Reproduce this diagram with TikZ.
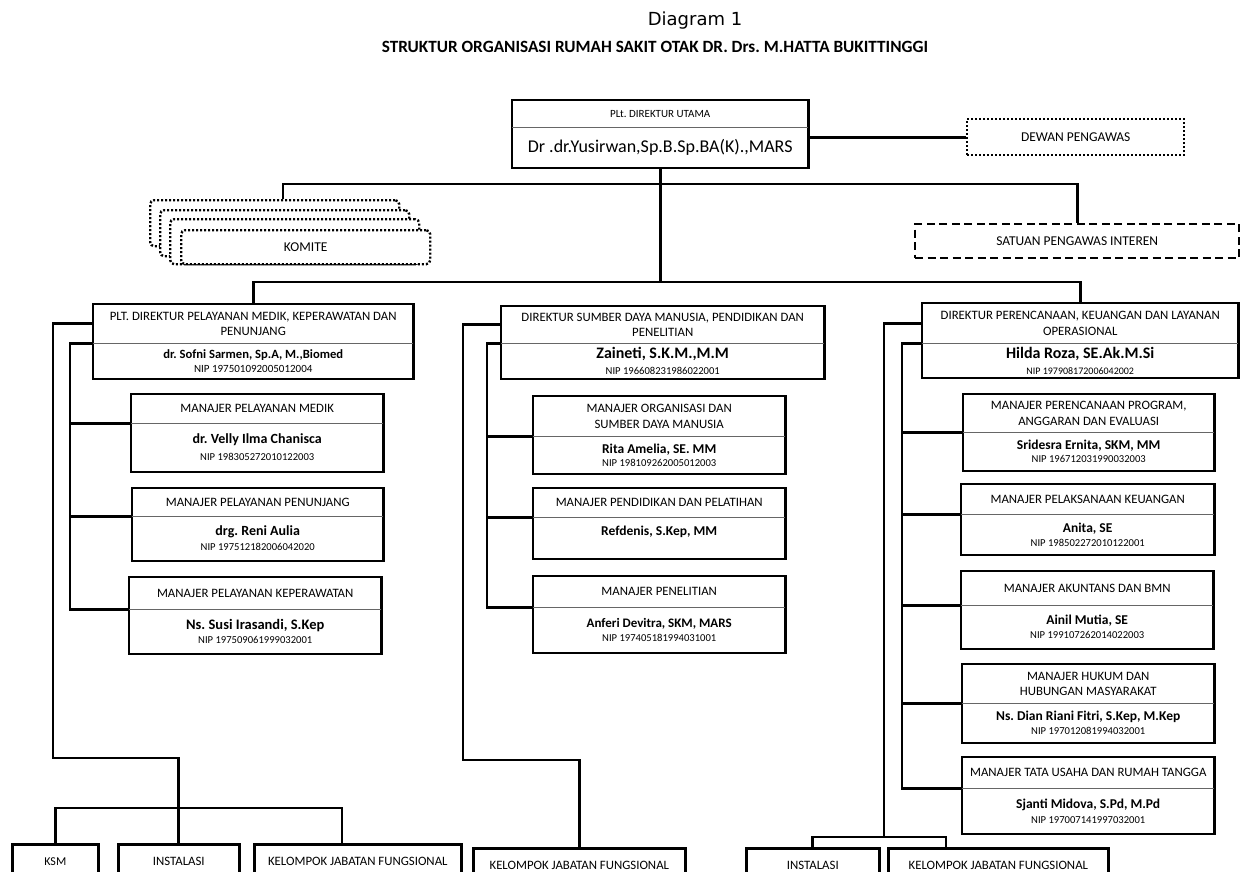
\documentclass[tikz,border=0pt]{standalone}
\usepackage{fontspec}
\setmainfont{Carlito}
\newfontfamily\verdana{DejaVu Sans}
\usetikzlibrary{positioning}
\frenchspacing
\newcommand{\tebal}[2][13.5]{{\fontsize{#1}{#1}\selectfont\bfseries #2}}

\begin{document}
\begin{tikzpicture}[x=1pt,y=-1pt,
        conn/.style={line width=2.8pt},
        frame/.style={line width=2.6pt},
        divline/.style={line width=0.9pt,black!60},
        hd/.style={inner sep=0pt,anchor=north west,align=center,font=\fontsize{12.8}{15.5}\selectfont},
        bd/.style={inner sep=0pt,align=center,font=\fontsize{10.6}{14}\selectfont},
        low/.style={draw,line width=2.6pt,inner sep=0pt,anchor=north west,minimum height=34,font=\fontsize{12.8}{15}\selectfont},
        titik/.style={draw,line width=2.4pt,dash pattern=on 2pt off 2pt,font=\fontsize{13.5}{15}\selectfont}]

    \useasboundingbox (0,0) rectangle (1242,872);
    \clip (0,0) rectangle (1242,872);

    \node[font=\verdana\fontsize{18}{20}\selectfont] (cap) at (695,21) {Diagram 1};
    \node[font=\bfseries\fontsize{17.2}{19}\selectfont] (judul) at (655,47) {STRUKTUR ORGANISASI RUMAH SAKIT OTAK DR. Drs. M.HATTA BUKITTINGGI};

    % pimpinan
    \node[hd,minimum width=296,minimum height=27,font=\fontsize{11}{14}\selectfont] (dir-t) at (512,100) {PLt. DIREKTUR UTAMA};
    \node[bd,minimum width=296,minimum height=40,below=0pt of dir-t,font=\fontsize{18}{20}\selectfont] (dir-b) {Dr .dr.Yusirwan,Sp.B.Sp.BA(K).,MARS};
    \node[titik,minimum width=217,minimum height=36,anchor=north west] (dewan) at (966,118) {DEWAN PENGAWAS};
    \node[draw,line width=2.4pt,dash pattern=on 8pt off 4.5pt,minimum width=324,minimum height=34,anchor=north west,font=\fontsize{13.5}{15}\selectfont] (spi) at (914,223) {SATUAN PENGAWAS INTEREN};
    \foreach \i/\x/\y/\h in {1/149/199/46,2/159/209/46,3/169/218/45}
    {
        \node[titik,fill=white,rounded corners=4pt,minimum width=249,minimum height=\h,anchor=north west] (kom\i) at (\x,\y) {};
    }
    \node[titik,fill=white,rounded corners=4pt,minimum width=249,minimum height=34,anchor=north west] (kom4) at (180,229) {KOMITE};

    % direktur
    \node[hd,minimum width=320,minimum height=39] (ldir-t) at (93,304) {PLT. DIREKTUR PELAYANAN MEDIK, KEPERAWATAN DAN\\PENUNJANG};
    \node[bd,minimum width=320,minimum height=35,below=0pt of ldir-t,font=\fontsize{11}{14}\selectfont] (ldir-b) {\tebal[12.6]{dr. Sofni Sarmen, Sp.A, M.,Biomed}\\NIP 197501092005012004};
    \node[hd,minimum width=323,minimum height=37] (mdir-t) at (501,306) {DIREKTUR SUMBER DAYA MANUSIA, PENDIDIKAN DAN\\PENELITIAN};
    \node[bd,minimum width=323,minimum height=35,below=0pt of mdir-t,font=\fontsize{10.6}{16}\selectfont] (mdir-b) {\tebal[16]{Zaineti, S.K.M.,M.M}\\NIP 196608231986022001};
    \node[hd,minimum width=316,minimum height=40] (rdir-t) at (922,303) {DIREKTUR PERENCANAAN, KEUANGAN DAN LAYANAN\\OPERASIONAL};
    \node[bd,minimum width=316,minimum height=34,below=0pt of rdir-t,font=\fontsize{10}{16}\selectfont] (rdir-b) {\tebal[16]{Hilda Roza, SE.Ak.M.Si}\\NIP 197908172006042002};

    % manajer kiri
    \node[hd,minimum width=252,minimum height=29] (mpm-t) at (131,394) {MANAJER PELAYANAN MEDIK};
    \node[bd,minimum width=252,minimum height=48,below=0pt of mpm-t,font=\fontsize{10.6}{17}\selectfont] (mpm-b) {\tebal[14]{dr. Velly Ilma Chanisca}\\NIP 198305272010122003};
    \node[hd,minimum width=251,minimum height=28] (mpp-t) at (132,488) {MANAJER PELAYANAN PENUNJANG};
    \node[bd,minimum width=251,minimum height=44,below=0pt of mpp-t,font=\fontsize{10.6}{15}\selectfont] (mpp-b) {\tebal[14]{drg. Reni Aulia}\\NIP 197512182006042020};
    \node[hd,minimum width=252,minimum height=32] (mpk-t) at (129,577) {MANAJER PELAYANAN KEPERAWATAN};
    \node[bd,minimum width=252,minimum height=44,below=0pt of mpk-t] (mpk-b) {\tebal[14.5]{Ns. Susi Irasandi, S.Kep}\\NIP 197509061999032001};

    % manajer tengah
    \node[hd,minimum width=252,minimum height=40] (mos-t) at (533,396) {MANAJER ORGANISASI DAN\\SUMBER DAYA MANUSIA};
    \node[bd,minimum width=252,minimum height=37,below=0pt of mos-t,font=\fontsize{10.6}{13}\selectfont] (mos-b) {\tebal{Rita Amelia, SE. MM}\\NIP 198109262005012003};
    \node[hd,minimum width=252,minimum height=29] (mpd-t) at (533,488) {MANAJER PENDIDIKAN DAN PELATIHAN};
    \node[bd,minimum width=252,minimum height=41,below=0pt of mpd-t] (mpd-b) {\tebal{Refdenis, S.Kep, MM}\\~};
    \node[hd,minimum width=252,minimum height=31] (mpen-t) at (533,576) {MANAJER PENELITIAN};
    \node[bd,minimum width=252,minimum height=45,below=0pt of mpen-t] (mpen-b) {\tebal[13]{Anferi Devitra, SKM, MARS}\\NIP 197405181994031001};

    % manajer kanan
    \node[hd,minimum width=251,minimum height=38] (mppae-t) at (963,394) {MANAJER PERENCANAAN PROGRAM,\\ANGGARAN DAN EVALUASI};
    \node[bd,minimum width=251,minimum height=38,below=0pt of mppae-t,font=\fontsize{10.6}{13}\selectfont] (mppae-b) {\tebal{Sridesra Ernita, SKM, MM}\\NIP 196712031990032003};
    \node[hd,minimum width=253,minimum height=30] (mpk2-t) at (961,484) {MANAJER PELAKSANAAN KEUANGAN};
    \node[bd,minimum width=253,minimum height=40,below=0pt of mpk2-t] (mpk2-b) {\tebal{Anita, SE}\\NIP 198502272010122001};
    \node[hd,minimum width=252,minimum height=34] (mab-t) at (961,571) {MANAJER AKUNTANS DAN BMN};
    \node[bd,minimum width=252,minimum height=43,below=0pt of mab-t] (mab-b) {\tebal{Ainil Mutia, SE}\\NIP 199107262014022003};
    \node[hd,minimum width=252,minimum height=39] (mhh-t) at (962,664) {MANAJER HUKUM DAN\\HUBUNGAN MASYARAKAT};
    \node[bd,minimum width=252,minimum height=39,below=0pt of mhh-t] (mhh-b) {\tebal{Ns. Dian Riani Fitri, S.Kep, M.Kep}\\NIP 197012081994032001};
    \node[hd,minimum width=252,minimum height=31] (mtu-t) at (962,757) {MANAJER TATA USAHA DAN RUMAH TANGGA};
    \node[bd,minimum width=252,minimum height=45,below=0pt of mtu-t,font=\fontsize{10.6}{15}\selectfont] (mtu-b) {\tebal{Sjanti Midova, S.Pd, M.Pd}\\NIP 197007141997032001};

    \foreach \n in {dir,ldir,mdir,rdir,mpm,mpp,mpk,mos,mpd,mpen,mppae,mpk2,mab,mhh,mtu}
    {
        \draw[frame] (\n-t.north west) rectangle (\n-b.south east);
        \draw[divline] (\n-t.south west) -- (\n-t.south east);
    }

    % kelompok bawah
    \node[low,minimum width=86,font=\fontsize{12}{14}\selectfont] (ksm) at (11,843) {KSM};
    \node[low,minimum width=121] (linst) at (117,843) {INSTALASI};
    \node[low,minimum width=207] (kjf1) at (253,843) {KELOMPOK JABATAN FUNGSIONAL};
    \node[low,minimum width=212] (mkjf) at (472,847) {KELOMPOK JABATAN FUNGSIONAL};
    \node[low,minimum width=133] (rinst) at (745,847) {INSTALASI};
    \node[low,minimum width=220] (rkjf) at (887,847) {KELOMPOK JABATAN FUNGSIONAL};

    % titik bantu garis
    \coordinate (bar1) at (0,184);
    \coordinate (kdrop) at (283,184);
    \coordinate (bar2) at (0,282);
    \coordinate (lout) at (53,758);
    \coordinate (lin) at (70,0);
    \coordinate (lbar) at (0,808);
    \coordinate (ldrop) at (342,808);
    \coordinate (mout) at (463,760);
    \coordinate (min) at (487,0);
    \coordinate (rout) at (884,837);
    \coordinate (rin) at (902,0);
    \coordinate (rdrop) at (946,837);

    % garis komando
    \draw[conn] (dir-b.east |- dewan.west) -- (dewan.west);
    \draw[conn] (dir-b.south) -- (dir-b.south |- bar2);
    \draw[conn] (kdrop |- kom1.north) -- (kdrop) -- (spi.north |- bar1) -- (spi.north);
    \draw[conn] (ldir-t.north) -- (ldir-t.north |- bar2) -- (rdir-t.north |- bar2) -- (rdir-t.north);

    \draw[conn] (ldir-t.west) -- (ldir-t.west -| lout) -- (lout) -- (lout -| linst.north) -- (linst.north);
    \draw[conn] (ldir-t.south west) -- (ldir-t.south west -| lin) |- (mpk-t.south west);
    \foreach \n in {mpm,mpp}
    {
        \draw[conn] (\n-t.south west) -- (\n-t.south west -| lin);
    }
    \draw[conn] (ksm.north) -- (ksm.north |- lbar) -- (ldrop) -- (ldrop |- kjf1.north);

    \draw[conn] (mdir-t.west) -- (mdir-t.west -| mout) -- (mout) -- (mout -| mkjf.north) -- (mkjf.north);
    \draw[conn] (mdir-t.south west) -- (mdir-t.south west -| min) |- (mpen-t.south west);
    \foreach \n in {mos,mpd}
    {
        \draw[conn] (\n-t.south west) -- (\n-t.south west -| min);
    }

    \draw[conn] (rdir-t.west) -- (rdir-t.west -| rout) -- (rout);
    \draw[conn] (rinst.north) -- (rinst.north |- rout) -- (rdrop) -- (rdrop |- rkjf.north);
    \draw[conn] (rdir-t.south west) -- (rdir-t.south west -| rin) |- (mtu-t.south west);
    \foreach \n in {mppae,mpk2,mab,mhh}
    {
        \draw[conn] (\n-t.south west) -- (\n-t.south west -| rin);
    }
\end{tikzpicture}
\end{document}
